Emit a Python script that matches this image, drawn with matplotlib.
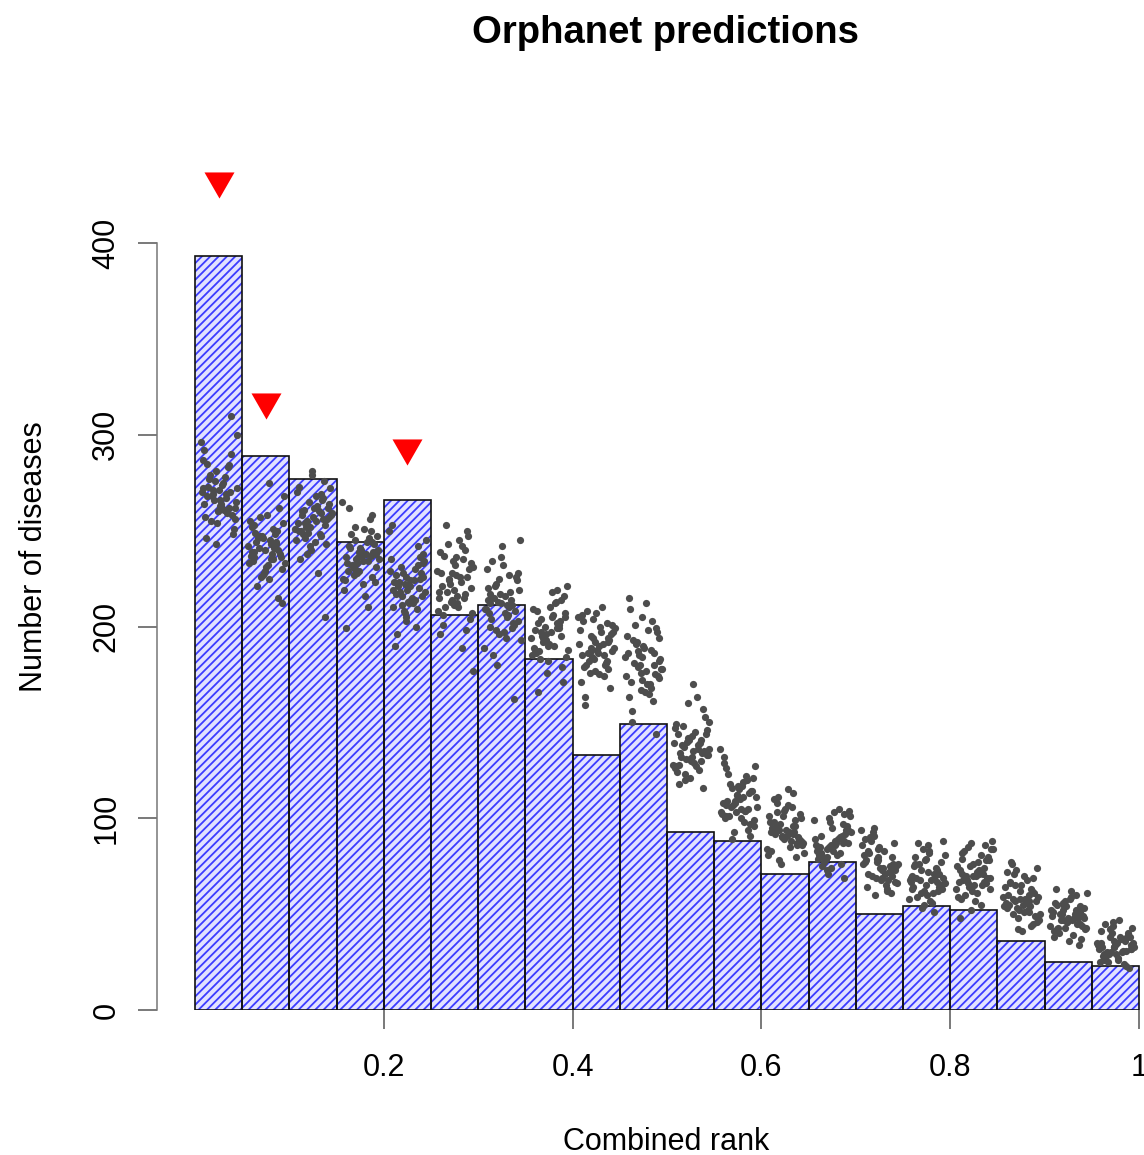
import matplotlib
matplotlib.use("Agg")
import matplotlib.pyplot as plt
import numpy as np

plt.rcParams['font.family'] = ['Liberation Sans', 'DejaVu Sans']
plt.rcParams['hatch.linewidth'] = 1.3

# histogram of combined rank, 20 bins of width 0.05
bin_left = [0.00, 0.05, 0.10, 0.15, 0.20, 0.25, 0.30, 0.35, 0.40, 0.45,
            0.50, 0.55, 0.60, 0.65, 0.70, 0.75, 0.80, 0.85, 0.90, 0.95]
counts = [393, 289, 277, 244, 266, 206, 211, 183, 133, 149,
          93, 88, 71, 77, 50, 54, 52, 36, 25, 23]

# red markers above enriched bins
mark_x = [0.025, 0.075, 0.225]
mark_y = [430, 315, 291]

# randomised-run counts per bin
rand_counts = [
    [268, 275, 262, 281, 259, 270, 266, 290, 255, 272, 264, 278, 260, 284, 269, 251, 273, 263, 296, 267,
     258, 276, 271, 246, 265, 279, 261, 287, 270, 254, 274, 268, 300, 257, 283, 266, 248, 272, 263, 277,
     310, 260, 269, 285, 256, 271, 264, 292, 262, 243],
    [240, 246, 233, 252, 238, 229, 244, 257, 236, 249, 225, 242, 235, 262, 247, 231, 239, 254, 221, 243,
     237, 250, 228, 245, 241, 268, 234, 248, 226, 238, 255, 232, 244, 215, 240, 251, 236, 230, 247, 275,
     239, 243, 227, 253, 235, 212, 246, 241, 233, 258],
    [255, 262, 248, 268, 251, 259, 243, 265, 257, 250, 272, 246, 260, 254, 276, 240, 263, 252, 258, 235,
     266, 249, 256, 270, 244, 261, 253, 279, 247, 258, 264, 238, 255, 250, 267, 242, 260, 228, 257, 252,
     269, 245, 262, 205, 254, 259, 273, 248, 281, 256],
    [235, 241, 229, 247, 232, 238, 224, 244, 236, 251, 227, 240, 233, 256, 230, 243, 219, 237, 248, 226,
     239, 234, 262, 231, 245, 222, 236, 250, 228, 242, 216, 238, 233, 246, 225, 240, 258, 231, 235, 199,
     244, 229, 237, 252, 223, 241, 234, 265, 210, 239],
    [220, 226, 214, 231, 218, 223, 209, 228, 216, 235, 212, 221, 225, 205, 230, 217, 238, 211, 224, 219,
     242, 207, 227, 215, 233, 222, 200, 229, 213, 236, 218, 245, 210, 224, 203, 232, 216, 226, 196, 221,
     250, 214, 228, 208, 219, 190, 234, 223, 212, 253],
    [222, 230, 215, 236, 210, 226, 219, 242, 206, 233, 224, 212, 239, 217, 228, 201, 245, 220, 214, 235,
     208, 227, 250, 218, 231, 196, 223, 211, 240, 225, 204, 237, 216, 229, 189, 247, 213, 232, 221, 207,
     253, 226, 218, 198, 234, 210, 243, 177, 228, 215],
    [210, 217, 203, 222, 207, 214, 199, 225, 212, 205, 228, 196, 218, 209, 232, 201, 215, 193, 220, 206,
     236, 211, 198, 224, 204, 216, 189, 227, 208, 213, 242, 200, 219, 185, 211, 230, 202, 217, 194, 221,
     245, 207, 214, 180, 226, 209, 197, 234, 162, 212],
    [196, 202, 190, 207, 193, 199, 185, 210, 195, 204, 188, 198, 213, 182, 201, 192, 216, 187, 205, 194,
     219, 179, 200, 191, 208, 184, 197, 212, 189, 203, 176, 206, 195, 221, 186, 200, 193, 171, 209, 197,
     183, 214, 190, 202, 166, 205, 194, 218, 188, 199],
    [188, 194, 182, 199, 185, 191, 177, 202, 187, 196, 180, 190, 205, 174, 193, 184, 207, 179, 197, 186,
     210, 171, 192, 183, 200, 176, 189, 203, 181, 195, 168, 198, 186, 208, 178, 192, 185, 163, 201, 189,
     175, 206, 182, 194, 159, 197, 187, 204, 180, 191],
    [180, 187, 173, 193, 177, 184, 168, 197, 180, 190, 171, 183, 201, 165, 186, 175, 205, 170, 192, 178,
     209, 161, 185, 174, 195, 166, 181, 199, 172, 188, 156, 194, 179, 212, 163, 186, 176, 150, 198, 182,
     167, 203, 174, 189, 144, 191, 178, 215, 170, 184],
    [135, 140, 130, 144, 133, 138, 127, 147, 134, 141, 129, 137, 150, 124, 139, 131, 153, 126, 143, 132,
     157, 121, 136, 128, 146, 123, 135, 149, 130, 142, 118, 145, 133, 160, 125, 139, 132, 116, 148, 136,
     127, 163, 131, 141, 120, 144, 134, 170, 128, 138],
    [108, 113, 103, 117, 106, 111, 100, 120, 107, 114, 102, 110, 123, 97, 112, 104, 126, 99, 116, 105,
     129, 94, 109, 101, 119, 96, 108, 122, 103, 115, 91, 118, 106, 132, 98, 112, 105, 89, 121, 109,
     100, 136, 104, 114, 93, 117, 107, 127, 101, 111],
    [93, 97, 89, 101, 91, 95, 86, 104, 92, 98, 88, 94, 107, 83, 96, 90, 110, 85, 100, 91,
     113, 81, 94, 87, 103, 82, 93, 106, 89, 99, 78, 102, 92, 115, 84, 96, 90, 76, 105, 94,
     86, 108, 88, 98, 80, 101, 93, 111, 87, 95],
    [86, 90, 82, 94, 84, 88, 79, 97, 85, 91, 81, 87, 100, 76, 89, 83, 102, 78, 93, 84,
     105, 74, 87, 80, 96, 75, 86, 99, 82, 92, 71, 95, 85, 104, 77, 89, 83, 69, 98, 87,
     79, 101, 81, 91, 73, 94, 86, 103, 80, 88],
    [75, 79, 71, 83, 73, 77, 68, 86, 74, 80, 70, 76, 89, 65, 78, 72, 91, 67, 82, 73,
     94, 63, 76, 69, 85, 64, 75, 88, 71, 81, 61, 84, 74, 93, 66, 78, 72, 60, 87, 76,
     68, 90, 70, 80, 62, 83, 75, 95, 69, 77],
    [68, 72, 64, 76, 66, 70, 61, 79, 67, 73, 63, 69, 82, 58, 71, 65, 84, 60, 75, 66,
     87, 56, 69, 62, 78, 57, 68, 81, 64, 74, 53, 77, 67, 86, 59, 71, 65, 51, 80, 69,
     61, 83, 63, 73, 55, 76, 68, 88, 62, 70],
    [70, 74, 66, 78, 68, 72, 63, 81, 69, 75, 65, 71, 84, 60, 73, 67, 86, 62, 77, 68,
     88, 58, 71, 64, 80, 59, 70, 83, 66, 76, 55, 79, 69, 85, 61, 73, 67, 52, 82, 71,
     63, 87, 65, 75, 57, 78, 70, 84, 48, 72],
    [57, 61, 53, 65, 55, 59, 50, 68, 56, 62, 52, 58, 71, 47, 60, 54, 73, 49, 64, 55,
     76, 45, 58, 51, 67, 46, 57, 70, 53, 63, 42, 66, 56, 74, 48, 60, 54, 41, 69, 58,
     50, 72, 52, 62, 44, 65, 57, 77, 51, 59],
    [48, 51, 45, 54, 47, 50, 43, 56, 48, 52, 44, 49, 58, 40, 51, 46, 60, 42, 53, 47,
     62, 38, 49, 43, 55, 39, 48, 57, 45, 52, 36, 54, 47, 61, 41, 50, 46, 34, 56, 49,
     43, 59, 44, 52, 37, 54, 48, 63, 42, 50],
    [33, 36, 30, 38, 32, 35, 28, 40, 33, 37, 29, 34, 42, 27, 35, 31, 44, 26, 38, 32,
     46, 24, 34, 29, 39, 25, 33, 41, 30, 36, 23, 38, 32, 45, 26, 35, 31, 22, 40, 34,
     28, 43, 30, 37, 25, 38, 33, 47, 29, 35],
]
# horizontal jitter offsets (shared, shifted per bin)
jitter = [-0.012, 0.005, 0.017, -0.003, 0.009, -0.018, 0.001, 0.013, -0.008, 0.020,
          -0.015, 0.007, -0.001, 0.011, -0.006, 0.016, -0.011, 0.003, -0.019, 0.008,
          0.014, -0.004, 0.000, -0.013, 0.018, -0.009, 0.006, -0.016, 0.012, -0.002,
          0.004, -0.007, 0.019, -0.014, 0.010, -0.005, 0.015, -0.017, 0.002, -0.010,
          0.013, -0.001, 0.008, -0.012, 0.017, -0.006, 0.003, -0.015, 0.011, -0.003]

xticks = [0.2, 0.4, 0.6, 0.8, 1.0]
xticklabels = ['0.2', '0.4', '0.6', '0.8', '1']
yticks = [0, 100, 200, 300, 400]

W, H = 1144, 1155
fig = plt.figure(figsize=(W / 100, H / 100), dpi=100)
# axes from x=-0.04 (px 157) to figure edge, y=0 at px 1010
x0_px, x1_px = 195.0, 1139.0
y0_px, y400_px = 1010.0, 243.0
ax_left_px, ax_top_px = 157.0, 150.0
xl = (ax_left_px - x0_px) / (x1_px - x0_px)
xr = (W - x0_px) / (x1_px - x0_px)
ytop = (y0_px - ax_top_px) / (y0_px - y400_px) * 400
ax = fig.add_axes([ax_left_px / W, (H - y0_px) / H, (W - ax_left_px) / W, (y0_px - ax_top_px) / H])
ax.set_xlim(xl, xr)
ax.set_ylim(0, ytop)

ax.bar(bin_left, counts, width=0.05, align='edge', facecolor='#e2e2ff',
       edgecolor='#3c3cff', hatch='////', linewidth=0, zorder=1)
ax.bar(bin_left, counts, width=0.05, align='edge', fill=False,
       edgecolor='#111111', linewidth=1.2, zorder=2)

n = len(jitter)
for i, vals in enumerate(rand_counts):
    c = bin_left[i] + 0.025
    xs = [c + jitter[(k + 7 * i) % n] for k in range(len(vals))]
    ax.scatter(xs, vals, s=27, color='#4d4d4d', linewidths=0, zorder=3, clip_on=False)

tri = [(-1, 0.87), (1, 0.87), (0, -0.87)]
ax.plot(mark_x, mark_y, linestyle='none', marker=tri, markersize=21.6,
        color='red', markeredgewidth=0, zorder=4, clip_on=False)

for s in ['top', 'right', 'bottom']:
    ax.spines[s].set_visible(False)
ax.spines['left'].set_bounds(0, 400)
ax.spines['left'].set_color('#777777')
ax.spines['left'].set_linewidth(1.1)

ax.set_xticks(xticks)
ax.set_xticklabels(xticklabels)
ax.set_yticks(yticks)
ax.set_yticklabels([str(v) for v in yticks], rotation=90, va='center')
ax.tick_params(axis='x', length=13.7, width=1.1, color='#555555', pad=17, labelsize=22)
ax.tick_params(axis='y', length=13.7, width=1.1, color='#555555', pad=12, labelsize=22)

fig.text(666 / W, 1 - 43 / H, 'Orphanet predictions', ha='center', va='baseline',
         fontsize=27.5, fontweight='bold')
fig.text(666 / W, 1 - 1150 / H, 'Combined rank', ha='center', va='baseline', fontsize=22)
fig.text(42 / W, 1 - 557 / H, 'Number of diseases', ha='center', va='baseline',
         rotation=90, rotation_mode='anchor', fontsize=22)

fig.savefig('out.png', dpi=100)
